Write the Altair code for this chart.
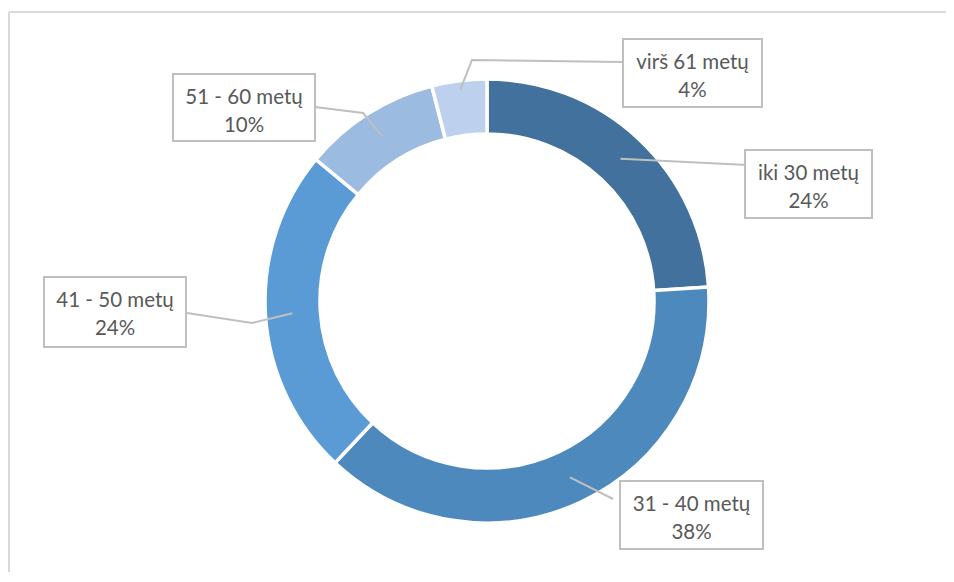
import altair as alt
import pandas as pd
import numpy as np

# ---- data ----
cats = ["iki 30 metų", "31 - 40 metų", "41 - 50 metų", "51 - 60 metų", "virš 61 metų"]
values = [24, 38, 24, 10, 4]
pct_labels = ["24%", "38%", "24%", "10%", "4%"]

# ---- styles / layout ----
colors = ["#41719C", "#4E89BE", "#5B9BD5", "#9CBBE1", "#BDD1EE"]
W, H = 938, 564
OFF = 8
CX, CY = 487, 301
R_OUT, R_IN = 222, 167
anchor_r = [195, 195, 195, 195, 213]
box_left = [745, 620, 44, 173, 623]
box_right = [872, 763, 186, 315, 762]
box_top = [150, 481, 277, 74, 39]
box_bottom = [218, 549, 347, 141, 107]
leader_pts = [
    [(747, 165)],
    [(613, 499)],
    [(252, 323), (187, 313)],
    [(363, 113), (315, 107)],
    [(472, 60), (623, 62)],
]

df = pd.DataFrame({"cat": cats, "value": values, "order": range(len(cats)), "pct": pct_labels})
total = df["value"].sum()
mid = ((df["value"].cumsum() - df["value"] / 2) / total * 2 * np.pi).to_numpy()
ax = CX + np.array(anchor_r) * np.sin(mid) - OFF
ay = CY - np.array(anchor_r) * np.cos(mid) - OFF

rows = []
for i, c in enumerate(cats):
    rows.append({"cat": c, "seq": 0, "x": ax[i], "y": ay[i]})
    for j, (px, py) in enumerate(leader_pts[i]):
        rows.append({"cat": c, "seq": j + 1, "x": px - OFF, "y": py - OFF})
lead = pd.DataFrame(rows)

boxdf = pd.DataFrame({
    "cat": cats,
    "pct": pct_labels,
    "x": [v - OFF for v in box_left],
    "x2": [v - OFF for v in box_right],
    "y": [v - OFF for v in box_top],
    "y2": [v - OFF for v in box_bottom],
})
boxdf["cx"] = (boxdf["x"] + boxdf["x2"]) / 2
boxdf["ty1"] = boxdf["y"] + 23.5
boxdf["ty2"] = boxdf["y"] + 51.5

xs = alt.Scale(domain=[0, W], nice=False, zero=False)
ys = alt.Scale(domain=[0, H], nice=False, zero=False, reverse=True)

arc = alt.Chart(df).mark_arc(radius=R_OUT, radius2=R_IN, stroke="white", strokeWidth=3.5).encode(
    theta=alt.Theta("value:Q", stack=True),
    color=alt.Color("cat:N", scale=alt.Scale(domain=cats, range=colors), legend=None),
    order=alt.Order("order:Q"),
    x=alt.value(CX - OFF),
    y=alt.value(CY - OFF),
)

lines = alt.Chart(lead).mark_line(color="#bfbfbf", strokeWidth=2).encode(
    x=alt.X("x:Q", scale=xs, axis=None),
    y=alt.Y("y:Q", scale=ys, axis=None),
    detail="cat:N",
    order="seq:Q",
)

boxes = alt.Chart(boxdf).mark_rect(fill="white", stroke="#bfbfbf", strokeWidth=2).encode(
    x=alt.X("x:Q", scale=xs, axis=None),
    x2="x2:Q",
    y=alt.Y("y:Q", scale=ys, axis=None),
    y2="y2:Q",
)

txt_style = dict(font="Lato", fontSize=20.5, color="#595959", align="center", baseline="middle")
t1 = alt.Chart(boxdf).mark_text(**txt_style).encode(
    x=alt.X("cx:Q", scale=xs, axis=None),
    y=alt.Y("ty1:Q", scale=ys, axis=None),
    text="cat:N",
)
t2 = alt.Chart(boxdf).mark_text(**txt_style).encode(
    x=alt.X("cx:Q", scale=xs, axis=None),
    y=alt.Y("ty2:Q", scale=ys, axis=None),
    text="pct:N",
)

frame_df = pd.DataFrame({"a": [0]})
top_rule = alt.Chart(frame_df).mark_rule(color="#d9d9d9", strokeWidth=2).encode(
    x=alt.value(1), x2=alt.value(W), y=alt.value(4)
)
left_rule = alt.Chart(frame_df).mark_rule(color="#d9d9d9", strokeWidth=2).encode(
    x=alt.value(1), y=alt.value(4), y2=alt.value(H)
)

chart = alt.layer(arc, lines, boxes, t1, t2, top_rule, left_rule).properties(
    width=W, height=H, padding=0, autosize=alt.AutoSizeParams(type="none")
).configure_view(strokeWidth=0)

chart.save("out.html", embed_options={"renderer": "svg", "actions": False})
